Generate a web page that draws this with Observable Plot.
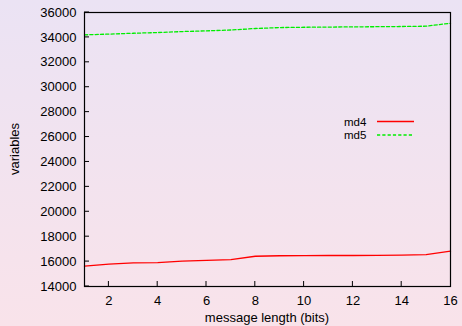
<!DOCTYPE html>
<html>
<head>
<meta charset="utf-8">
<script src="https://cdn.jsdelivr.net/npm/d3@7"></script>
<script src="https://cdn.jsdelivr.net/npm/@observablehq/plot@0.6"></script>
<style>
  html, body { margin: 0; padding: 0; }
  #wrap {
    position: relative; width: 462px; height: 326px; overflow: hidden;
    background: linear-gradient(to bottom, #ebe3f4, #f9e3ea);
    font-family: "Liberation Sans", Arial, sans-serif;
  }
  #wrap svg { background: transparent; }
</style>
</head>
<body>
<div id="wrap"></div>
<script>
const bits = [1, 2, 3, 4, 5, 6, 7, 8, 9, 10, 11, 12, 13, 14, 15, 16];
const md4 = [15630, 15790, 15900, 15925, 16045, 16100, 16165, 16430, 16470, 16485, 16490, 16490, 16505, 16515, 16555, 16835];
const md5 = [34205, 34265, 34335, 34390, 34470, 34525, 34595, 34715, 34790, 34815, 34830, 34845, 34860, 34875, 34900, 35140];
const xTicks = [2, 4, 6, 8, 10, 12, 14, 16];
const yTicks = [14000, 16000, 18000, 20000, 22000, 24000, 26000, 28000, 30000, 32000, 34000, 36000];
const seriesNames = ["md4", "md5"];
const seriesColors = ["#ff0000", "#00ee00"];

const rows4 = bits.map((b, i) => ({bits: b, value: md4[i]}));
const rows5 = bits.map((b, i) => ({bits: b, value: md5[i]}));

const chart = Plot.plot({
  width: 462,
  height: 326,
  marginLeft: 84,
  marginRight: 12,
  marginTop: 12,
  marginBottom: 40,
  style: {background: "transparent", fontFamily: "'Liberation Sans', Arial, sans-serif", fontSize: "13px", color: "#000"},
  x: {type: "linear", domain: [1, 16]},
  y: {type: "linear", domain: [14000, 36000]},
  marks: [
    Plot.axisX({ticks: xTicks, tickSize: 0, tickPadding: 9, tickFormat: d => String(d), label: null, fontSize: 13}),
    Plot.axisY({ticks: yTicks, tickSize: 0, tickPadding: 8, tickFormat: d => String(d), label: null, fontSize: 13}),
    Plot.line(rows4, {x: "bits", y: "value", stroke: seriesColors[0], strokeWidth: 1.3}),
    Plot.line(rows5, {x: "bits", y: "value", stroke: seriesColors[1], strokeWidth: 1.3, strokeDasharray: "3.2,2.1"}),
    Plot.frame({stroke: "#000", strokeWidth: 1.2})
  ]
});
document.getElementById("wrap").appendChild(chart);

// inward tick marks (gnuplot-style) drawn via the chart's scales
const svg = d3.select(chart);
const sx = chart.scale("x"), sy = chart.scale("y");
const g = svg.append("g").attr("stroke", "#000").attr("stroke-width", 1);
xTicks.filter(d => d < 16).forEach(d => {
  const px = sx.apply(d);
  g.append("line").attr("x1", px).attr("x2", px).attr("y1", sy.apply(14000)).attr("y2", sy.apply(14000) - 5);
});
yTicks.forEach(d => {
  const py = sy.apply(d);
  g.append("line").attr("x1", sx.apply(1)).attr("x2", sx.apply(1) + 5).attr("y1", py).attr("y2", py);
});

// axis titles
svg.append("text").attr("x", (sx.apply(1) + sx.apply(16)) / 2).attr("y", 322)
  .attr("text-anchor", "middle").attr("font-size", 13).attr("fill", "#000").text("message length (bits)");
svg.append("text").attr("transform", `translate(19,${(sy.apply(14000) + sy.apply(36000)) / 2}) rotate(-90)`)
  .attr("text-anchor", "middle").attr("font-size", 13).attr("fill", "#000").text("variables");

// legend (inside plot, gnuplot-style key)
const lg = svg.append("g").attr("transform", "translate(344,121.5)").attr("text-anchor", "start");
seriesNames.forEach((n, i) => {
  const row = lg.append("g").attr("transform", `translate(0,${i * 13.5})`);
  row.append("text").attr("x", 0).attr("y", 0).attr("dy", "0.35em").attr("text-anchor", "start")
    .attr("font-size", 11.5).attr("fill", "#000").text(n);
  const ln = row.append("line").attr("x1", 33).attr("x2", 70).attr("y1", 0).attr("y2", 0)
    .attr("stroke", seriesColors[i]).attr("stroke-width", 1.3);
  if (i === 1) ln.attr("stroke-dasharray", "3.2,2.1");
});
</script>
</body>
</html>
